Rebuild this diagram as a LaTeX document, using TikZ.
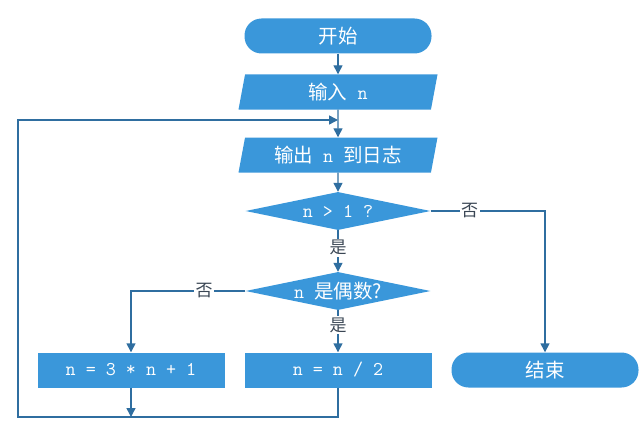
\documentclass[tikz,border=0pt]{standalone}
\usepackage{fontspec}
\setmainfont{Noto Sans CJK SC}
\usetikzlibrary{arrows.meta,shapes.geometric}
\definecolor{Box}{HTML}{3A97DA}
\definecolor{Wire}{HTML}{2F6EA0}
\definecolor{Note}{HTML}{3A4654}
\newcommand{\vn}[1]{\texttt{#1}}

\begin{document}
\begin{tikzpicture}[x=1pt,y=-1pt,>={Triangle[width=9pt,length=9pt]},
  every node/.style={font=\fontsize{19.5}{22}\selectfont},
  blk/.style={fill=Box,text=white,minimum width=187pt,minimum height=35pt,inner sep=0pt},
  term/.style={blk,rounded corners=17pt},
  io/.style={blk,trapezium,trapezium left angle=70,trapezium right angle=110,trapezium stretches body,minimum width=199pt},
  test/.style={blk,diamond,shape aspect=4.8,minimum width=185pt,minimum height=38pt},
  lbl/.style={text=Note,fill=white,inner sep=1.5pt,font=\fontsize{17}{19}\selectfont},
  wire/.style={Wire,line width=1.4pt}]
\useasboundingbox (0,0) rectangle (644,441);
\node[term] (start) at (338,36) {开始};
\node[io] (inp) at (338,92) {输入\vn{ n}};
\node[io] (out) at (338,155) {输出\vn{ n }到日志};
\node[test] (big) at (338,211) {\vn{n > 1 ?}};
\node[test] (even) at (338,291) {\vn{n }是偶数?};
\node[blk] (odd) at (131,370) {\vn{n = 3 * n + 1}};
\node[blk] (half) at (338,370) {\vn{n = n / 2}};
\node[term] (stop) at (545,370) {结束};
\coordinate (join) at (338,120);
\coordinate (low) at (338,417);
\coordinate (back) at (18,417);
\draw[wire,->] (start)--(inp);
\draw[wire,->] (inp)--(out);
\draw[wire,->] (out)--(big);
\draw[wire,->] (big)--node[lbl,pos=.42]{是}(even);
\draw[wire,->] (even)--node[lbl,pos=.35]{是}(half);
\draw[wire,->] (big.east)-|node[lbl,pos=.17]{否}(stop);
\draw[wire,->] (even.west)-|node[lbl,pos=.18]{否}(odd);
\draw[wire,->] (odd)--(odd|-low);
\draw[wire,->] (half)--(low)--(back)--(back|-join)--(join);
\end{tikzpicture}
\end{document}
